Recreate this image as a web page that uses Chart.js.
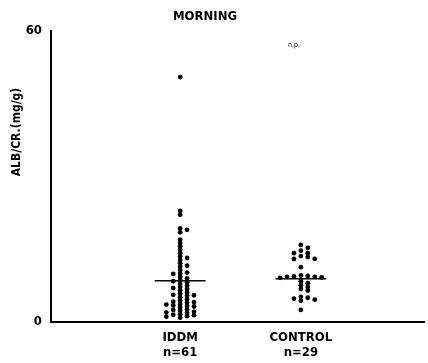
<!DOCTYPE html>
<html>
<head>
<meta charset="utf-8">
<script src="https://cdn.jsdelivr.net/npm/chart.js@4/dist/chart.umd.min.js"></script>
<style>
html,body{margin:0;padding:0;background:#fff;}
#wrap{width:428px;height:363px;}
</style>
</head>
<body>
<div id="wrap"><canvas id="c" width="428" height="363"></canvas></div>
<script>
// ---- data ----
const categories = ["IDDM", "CONTROL"];
const sampleLabels = ["n=61", "n=29"];
const iddmValues = [50.5, 22.9, 22.1, 19.3, 19.0, 18.5,
  17.0, 16.3, 15.6, 14.9, 14.2, 13.5, 12.8, 12.1, 11.4, 10.7, 10.0, 9.3, 8.6, 7.9, 7.2, 6.5,
  5.8, 5.1, 4.4, 3.7, 3.0, 2.3, 1.6, 0.9,
  13.2, 11.6, 10.2, 9.0, 8.2, 7.5, 6.8, 6.1, 5.4, 4.7, 4.0, 3.3, 2.6, 1.9, 1.2,
  9.9, 8.4, 7.0, 5.6, 4.2, 3.4, 2.1, 1.4,
  5.5, 4.1, 3.6, 2.5, 2.0, 1.5, 1.1, 3.2];
const controlValues = [15.9, 15.3, 14.7, 14.2, 14.2, 13.6, 13.4, 13.0, 13.0, 11.3, 9.6, 9.5,
  9.4, 9.3, 9.3, 9.2, 9.1, 8.4, 8.0, 7.6, 7.2, 6.8, 6.5, 5.2, 5.0, 4.8, 4.6, 4.4, 2.5];
const meanValues = [8.5, 8.9];
const yTicks = [0, 60];
const chartTitle = "MORNING";
const yTitle = "ALB/CR.(mg/g)";
const note = "n.p.";

// ---- style / layout constants ----
const FONT = "'Liberation Sans Narrow','DejaVu Sans Condensed','Arial Narrow',sans-serif";
const PX_PER_Y = 291 / 60;   // approx vertical px per unit (for swarm spacing)
const PX_PER_X = 122;        // approx horizontal px per category unit
const COL_GAP_PX = 7;
const MIN_GAP_PX = 3.3;
const MEAN_HALF = 0.21;

function swarm(values, center) {
  const sorted = values.slice().sort((a, b) => b - a);
  const placed = [];
  const order = [0, 1, -1, 2, -2, 3, -3, 4, -4];
  for (const v of sorted) {
    for (const k of order) {
      const clash = placed.some(p => p.k === k && Math.abs(p.y - v) * PX_PER_Y < MIN_GAP_PX);
      if (!clash) { placed.push({k: k, y: v}); break; }
    }
  }
  return placed.map(p => ({x: center + p.k * COL_GAP_PX / PX_PER_X, y: p.y}));
}

const datasets = [
  {type: 'scatter', data: swarm(iddmValues, 1), pointRadius: 2.4, pointBackgroundColor: '#000', pointBorderWidth: 0},
  {type: 'scatter', data: swarm(controlValues, 2), pointRadius: 2.4, pointBackgroundColor: '#000', pointBorderWidth: 0}
];
meanValues.forEach((m, i) => {
  datasets.push({type: 'line', data: [{x: i + 1 - MEAN_HALF, y: m}, {x: i + 1 + MEAN_HALF, y: m}],
    borderColor: '#000', borderWidth: 1.5, pointRadius: 0, fill: false});
});

const textPlugin = {
  id: 'texts',
  afterDraw(chart) {
    const ctx = chart.ctx;
    ctx.save();
    ctx.fillStyle = '#000';
    ctx.textAlign = 'center';
    ctx.textBaseline = 'middle';
    ctx.font = "bold 13px " + FONT;
    ctx.fillText(chartTitle, 205, 17);
    ctx.font = "7px " + FONT;
    ctx.fillText(note, 294, 45);
    ctx.translate(17, 132);
    ctx.rotate(-Math.PI / 2);
    ctx.font = "bold 12px " + FONT;
    ctx.fillText(yTitle, 0, 0);
    ctx.restore();
  }
};

new Chart(document.getElementById('c'), {
  data: {datasets: datasets},
  options: {
    responsive: false,
    animation: false,
    layout: {padding: {top: 31, right: 0, left: 0, bottom: 0}},
    plugins: {legend: {display: false}, tooltip: {enabled: false}, title: {display: false}},
    scales: {
      x: {
        type: 'linear', min: -0.07, max: 3.02,
        afterBuildTicks: s => { s.ticks = [1, 2].map(v => ({value: v})); },
        afterFit: s => { s.height = 41; },
        grid: {display: false, drawTicks: false},
        border: {display: true, color: '#000', width: 2},
        ticks: {
          color: '#000', padding: 8, maxRotation: 0, autoSkip: false,
          font: {family: FONT, size: 13, weight: 'bold', lineHeight: 1.15},
          callback: v => { const i = Math.round(v) - 1; return [categories[i], sampleLabels[i]]; }
        }
      },
      y: {
        type: 'linear', min: 0, max: 60,
        afterBuildTicks: s => { s.ticks = yTicks.map(v => ({value: v})); },
        afterFit: s => { s.width = 51; },
        grid: {display: false, drawTicks: false},
        border: {display: true, color: '#000', width: 2},
        ticks: {color: '#000', padding: 9, font: {family: FONT, size: 13, weight: 'bold'}}
      }
    }
  },
  plugins: [textPlugin]
});
</script>
</body>
</html>
